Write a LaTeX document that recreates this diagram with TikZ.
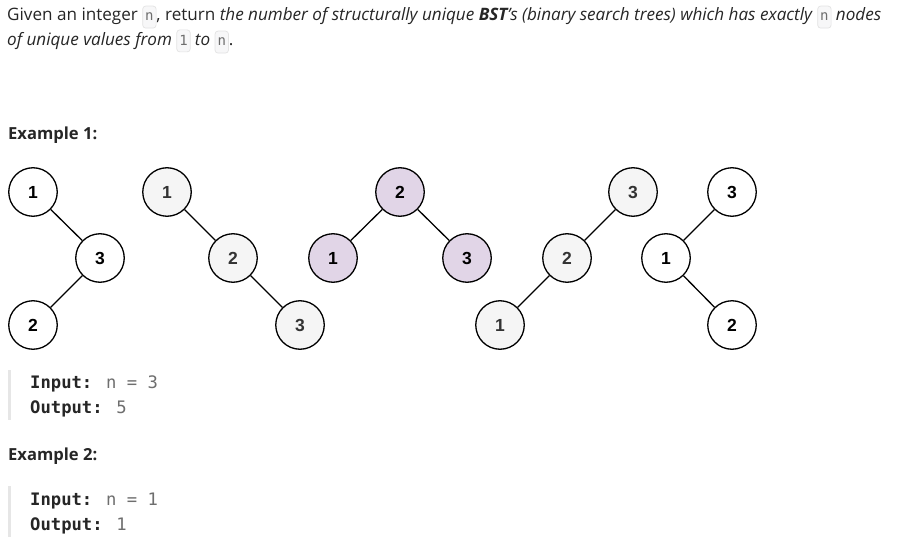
\documentclass[tikz,border=0pt]{standalone}
\usepackage{fontspec}
\setmainfont{Open Sans}
\newfontfamily\numfont{Liberation Sans}
\newfontfamily\codefont{DejaVu Sans Mono}
\definecolor{txt}{HTML}{262626}
\definecolor{codegray}{HTML}{6E6E6E}
\definecolor{boxfill}{HTML}{F7F7F8}
\definecolor{boxline}{HTML}{E3E3E3}
\definecolor{barcol}{HTML}{E6E6E6}
\definecolor{nodegray}{HTML}{F5F5F5}
\definecolor{nodepurple}{HTML}{E1D5E7}
\definecolor{numgray}{HTML}{333333}
\newcommand{\inl}[1]{\tikz[baseline=(c.base)]\node[fill=boxfill,draw=boxline,line width=0.7pt,rounded corners=3pt,inner xsep=2.5pt,inner ysep=0pt,minimum height=22pt,text depth=0pt] (c) {\fontsize{14}{16}\codefont\color{codegray}#1};}
\begin{document}
\begin{tikzpicture}[x=1pt,y=-1pt,
  bodytext/.style={anchor=base west,inner sep=0pt,text=txt,font=\fontsize{17.1}{19}\selectfont},
  headtext/.style={anchor=base west,inner sep=0pt,text=txt,font=\fontsize{16.6}{19}\selectfont\bfseries},
  codetext/.style={anchor=base west,inner sep=0pt,text=txt,font=\fontsize{17.2}{20}\codefont},
  bst/.style={circle,draw=black,line width=1.3pt,minimum size=48.5pt,inner sep=0pt,font=\fontsize{17.5}{18}\numfont\bfseries},
  wnode/.style={bst,fill=white,text=black},
  gnode/.style={bst,fill=nodegray,text=numgray},
  pnode/.style={bst,fill=nodepurple,text=black},
  edge/.style={draw=black,line width=1.3pt},
  bar/.style={draw=none,fill=barcol}]
\useasboundingbox[fill=white] (0,0) rectangle (909,537);

% description text
\node[bodytext] (l1) at (7,21) {Given an integer \inl{n}, return \textit{the number of structurally unique \textbf{BST}'s (binary search trees) which has exactly} \inl{n} \textit{nodes}};
\node[bodytext] (l2) at (7,46) {\textit{of unique values from} \inl{1} \textit{to} \inl{n}.};

\node[headtext] (ex1) at (8,140) {Example 1:};

% tree 1
\node[wnode] (a1) at (33,192) {1};
\node[wnode] (a3) at (100,258) {3};
\node[wnode] (a2) at (33,325) {2};
\draw[edge] (a1) -- (a3);
\draw[edge] (a3) -- (a2);

% tree 2
\node[gnode] (b1) at (167,192) {1};
\node[gnode] (b2) at (233,258) {2};
\node[gnode] (b3) at (300,325) {3};
\draw[edge] (b1) -- (b2);
\draw[edge] (b2) -- (b3);

% tree 3
\node[pnode] (c2) at (400,192) {2};
\node[pnode] (c1) at (333,258) {1};
\node[pnode] (c3) at (467,258) {3};
\draw[edge] (c2) -- (c1);
\draw[edge] (c2) -- (c3);

% tree 4
\node[gnode] (d3) at (633,192) {3};
\node[gnode] (d2) at (567,258) {2};
\node[gnode] (d1) at (500,325) {1};
\draw[edge] (d3) -- (d2);
\draw[edge] (d2) -- (d1);

% tree 5
\node[wnode] (e3) at (732,192) {3};
\node[wnode] (e1) at (666,258) {1};
\node[wnode] (e2) at (732,325) {2};
\draw[edge] (e3) -- (e1);
\draw[edge] (e1) -- (e2);

% example 1 code
\fill[bar] (8,370) rectangle (11,420);
\node[codetext] (in1) at (30,388) {\textbf{Input:} \textcolor{codegray}{n = 3}};
\node[codetext] (out1) at (30,413) {\textbf{Output:} \textcolor{codegray}{5}};

\node[headtext] (ex2) at (8,460) {Example 2:};

% example 2 code
\fill[bar] (8,486) rectangle (11,537);
\node[codetext] (in2) at (30,505) {\textbf{Input:} \textcolor{codegray}{n = 1}};
\node[codetext] (out2) at (30,530) {\textbf{Output:} \textcolor{codegray}{1}};
\end{tikzpicture}
\end{document}
